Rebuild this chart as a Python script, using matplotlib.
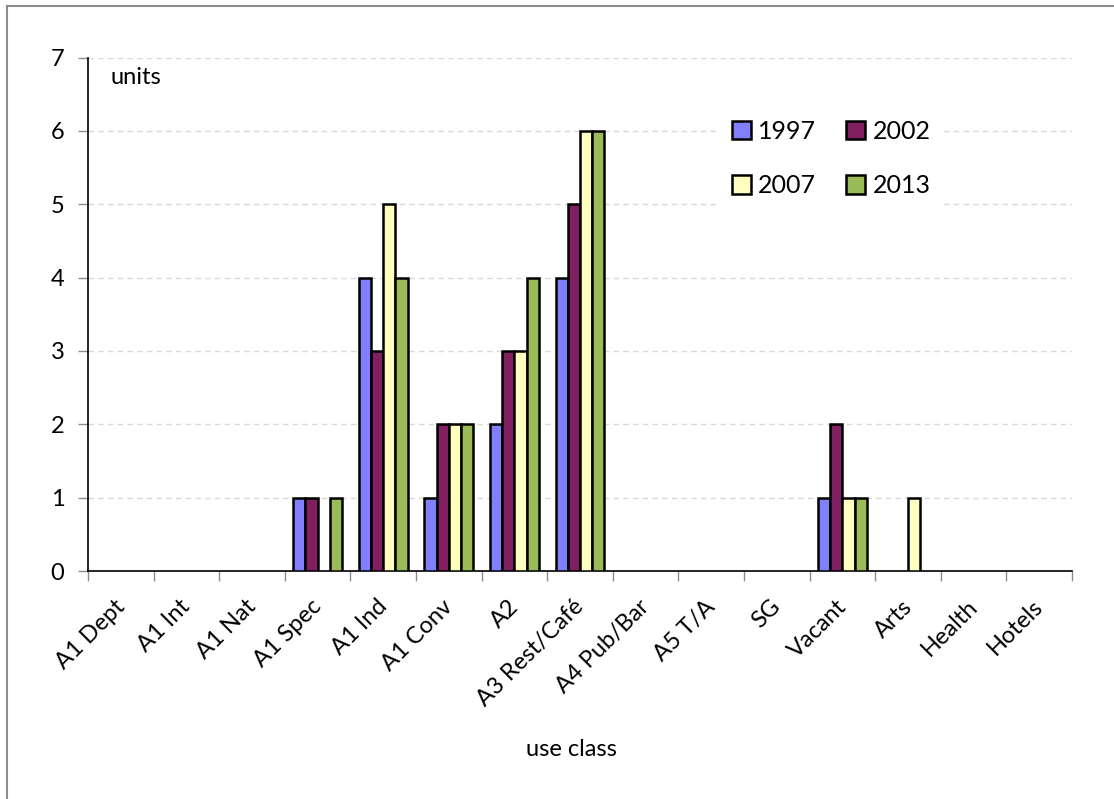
import matplotlib
matplotlib.use("Agg")
import matplotlib.pyplot as plt
from matplotlib.patches import Rectangle
import matplotlib.transforms as mtransforms
import numpy as np

categories = ["A1 Dept", "A1 Int", "A1 Nat", "A1 Spec", "A1 Ind", "A1 Conv", "A2",
              "A3 Rest/Café", "A4 Pub/Bar", "A5 T/A", "SG", "Vacant", "Arts", "Health", "Hotels"]
years = ["1997", "2002", "2007", "2013"]
v1997 = [0, 0, 0, 1, 4, 1, 2, 4, 0, 0, 0, 1, 0, 0, 0]
v2002 = [0, 0, 0, 1, 3, 2, 3, 5, 0, 0, 0, 2, 0, 0, 0]
v2007 = [0, 0, 0, 0, 5, 2, 3, 6, 0, 0, 0, 1, 1, 0, 0]
v2013 = [0, 0, 0, 1, 4, 2, 4, 6, 0, 0, 0, 1, 0, 0, 0]
series = [v1997, v2002, v2007, v2013]
colors = ["#8080FF", "#802060", "#FFFFC0", "#9BBB59"]

plt.rcParams['font.family'] = ['Lato', 'DejaVu Sans']
FS = 17

W, H = 1114, 799
fig = plt.figure(figsize=(W / 100, H / 100), dpi=100)
ax = fig.add_axes([88 / W, 1 - 571 / H, (1072 - 88) / W, (571 - 57.5) / H])

# outer chart border
fig.patches.append(Rectangle((7 / W, -0.05), 1.2, 1 - 6 / H + 0.05, transform=fig.transFigure,
                             fill=False, edgecolor="#8c8c8c", linewidth=1.5, zorder=0))

n = len(categories)
x = np.arange(n)
bw = 0.186
handles = []
for i, (vals, c, yr) in enumerate(zip(series, colors, years)):
    vals = np.array(vals, dtype=float)
    pos = x + (i - 1.5) * bw
    mask = vals > 0
    ax.bar(pos[mask], vals[mask], width=bw, color=c, edgecolor="black", linewidth=1.8, zorder=3)
    h = ax.bar([np.nan], [np.nan], width=bw, color=c, edgecolor="black", linewidth=1.8, label=yr)
    handles.append(h)

ax.set_xlim(-0.5, n - 0.5)
ax.set_ylim(0, 7)
ax.set_yticks(range(0, 8))
ax.tick_params(axis='y', labelsize=FS, length=7, color="#8c8c8c", width=1, pad=10)
for yv in range(1, 8):
    ax.axhline(yv, color="#d9d9d9", linestyle=(0, (4, 3)), linewidth=1, zorder=1)

ax.set_xticks(x)
ax.set_xticklabels(categories, rotation=45, ha='right', fontsize=FS)
ax.tick_params(axis='x', which='major', length=0, pad=18)
offset = mtransforms.ScaledTranslation(8 / 100, 0, fig.dpi_scale_trans)
for lbl in ax.get_xticklabels():
    lbl.set_transform(lbl.get_transform() + offset)
ax.set_xticks(np.arange(-0.5, n, 1.0), minor=True)
ax.tick_params(axis='x', which='minor', length=7, color="#8c8c8c", width=1)

for s in ["top", "right"]:
    ax.spines[s].set_visible(False)
for s in ["left", "bottom"]:
    ax.spines[s].set_color("black")
    ax.spines[s].set_linewidth(1.2)

fig.text(110 / W, 1 - 78 / H, "units", ha='left', va='center', fontsize=FS)
fig.text(571 / W, 1 - 750 / H, "use class", ha='center', va='center', fontsize=FS)

order = [0, 2, 1, 3]
leg = ax.legend([handles[k] for k in order], [years[k] for k in order],
                ncol=2, loc='upper left', bbox_to_anchor=(707 / W, 1 - 95 / H),
                bbox_transform=fig.transFigure, frameon=True, fontsize=FS + 1,
                handlelength=0.75, handleheight=0.75, handletextpad=0.3,
                columnspacing=1.2, labelspacing=1.25, borderpad=0.5)
leg.get_frame().set_facecolor("white")
leg.get_frame().set_edgecolor("white")
leg.get_frame().set_alpha(1)
leg.set_zorder(5)

fig.savefig("out.png", dpi=100)
